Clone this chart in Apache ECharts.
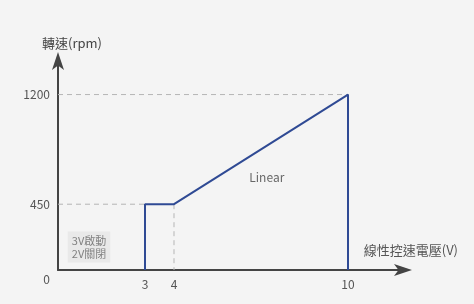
<!DOCTYPE html>
<html><head><meta charset="utf-8">
<script src="https://cdn.jsdelivr.net/npm/echarts@6/dist/echarts.min.js"></script>
<style>html,body{margin:0;padding:0;background:#f4f4f4}#c{width:474px;height:304px}</style>
</head><body><div id="c"></div>
<script>
const xTicks = [3, 4, 10];
const yTicks = [0, 450, 1200];
const curveX = [3, 3, 4, 10, 10];
const curveY = [0, 450, 450, 1200, 1200];
const curveEndY = 0;
const guide1200 = [[0, 1200], [10, 1200]];
const guide450 = [[0, 450], [3, 450]];
const guide4 = [[4, 450], [4, 0]];
const noteText = '3V啟動\n2V關閉';
const notePos = [1.07, 158];
const linearText = 'Linear';
const linearPos = [7.2, 631];
const xName = '線性控速電壓(V)';
const yName = '轉速(rpm)';

const curve = curveX.map((x, i) => [x, curveY[i]]);
curve.push([10, curveEndY]);
const font = '"Noto Sans CJK TC", "Noto Sans", sans-serif';
const dash = {color: '#b5b5b5', width: 1, type: [5, 4]};
const chart = echarts.init(document.getElementById('c'));
chart.setOption({
  backgroundColor: '#f4f4f4',
  animation: false,
  grid: {left: 58, right: 68, top: 58, bottom: 34},
  xAxis: {
    type: 'value', min: 0, max: 12,
    axisLine: {lineStyle: {color: '#444', width: 2}, symbol: ['none', 'arrow'], symbolSize: [9, 18], symbolOffset: [0, 6]},
    axisTick: {show: false}, splitLine: {show: false},
    axisLabel: {customValues: xTicks, color: '#555', fontSize: 12, fontFamily: font, margin: 8}
  },
  yAxis: {
    type: 'value', min: 0, max: 1450,
    axisLine: {lineStyle: {color: '#444', width: 2}, symbol: ['none', 'arrow'], symbolSize: [9, 18], symbolOffset: [0, 6]},
    axisTick: {show: false}, splitLine: {show: false},
    axisLabel: {customValues: yTicks, color: '#555', fontSize: 12, fontFamily: font, margin: 8,
      formatter: v => v === 0 ? '{z|0}' : String(v),
      rich: {z: {fontSize: 12, color: '#555', fontFamily: font, padding: [18, 0, 0, 0]}}},
    name: yName, nameLocation: 'end', nameGap: 8,
    nameTextStyle: {color: '#444', fontSize: 13, fontFamily: font, align: 'left', padding: [0, 0, 0, -16]}
  },
  graphic: [{type: 'text', right: 16, top: 244, style: {text: xName, fill: '#555', font: '13px ' + font}}],
  series: [
    {type: 'line', data: guide1200, symbol: 'none', lineStyle: dash, z: 1},
    {type: 'line', data: guide450, symbol: 'none', lineStyle: dash, z: 1},
    {type: 'line', data: guide4, symbol: 'none', lineStyle: dash, z: 1},
    {type: 'line', data: curve, symbol: 'none', lineStyle: {color: '#2f4a94', width: 2}, z: 3},
    {type: 'scatter', data: [notePos], symbolSize: 0, z: 2,
      label: {show: true, formatter: noteText, position: 'inside', color: '#666', fontSize: 11, lineHeight: 13,
        fontFamily: font, backgroundColor: '#e6e6e6', padding: [3, 4, 2, 4]}},
    {type: 'scatter', data: [linearPos], symbolSize: 0, z: 2,
      label: {show: true, formatter: linearText, position: 'inside', color: '#444', fontSize: 12, fontFamily: font}}
  ]
});
</script></body></html>
